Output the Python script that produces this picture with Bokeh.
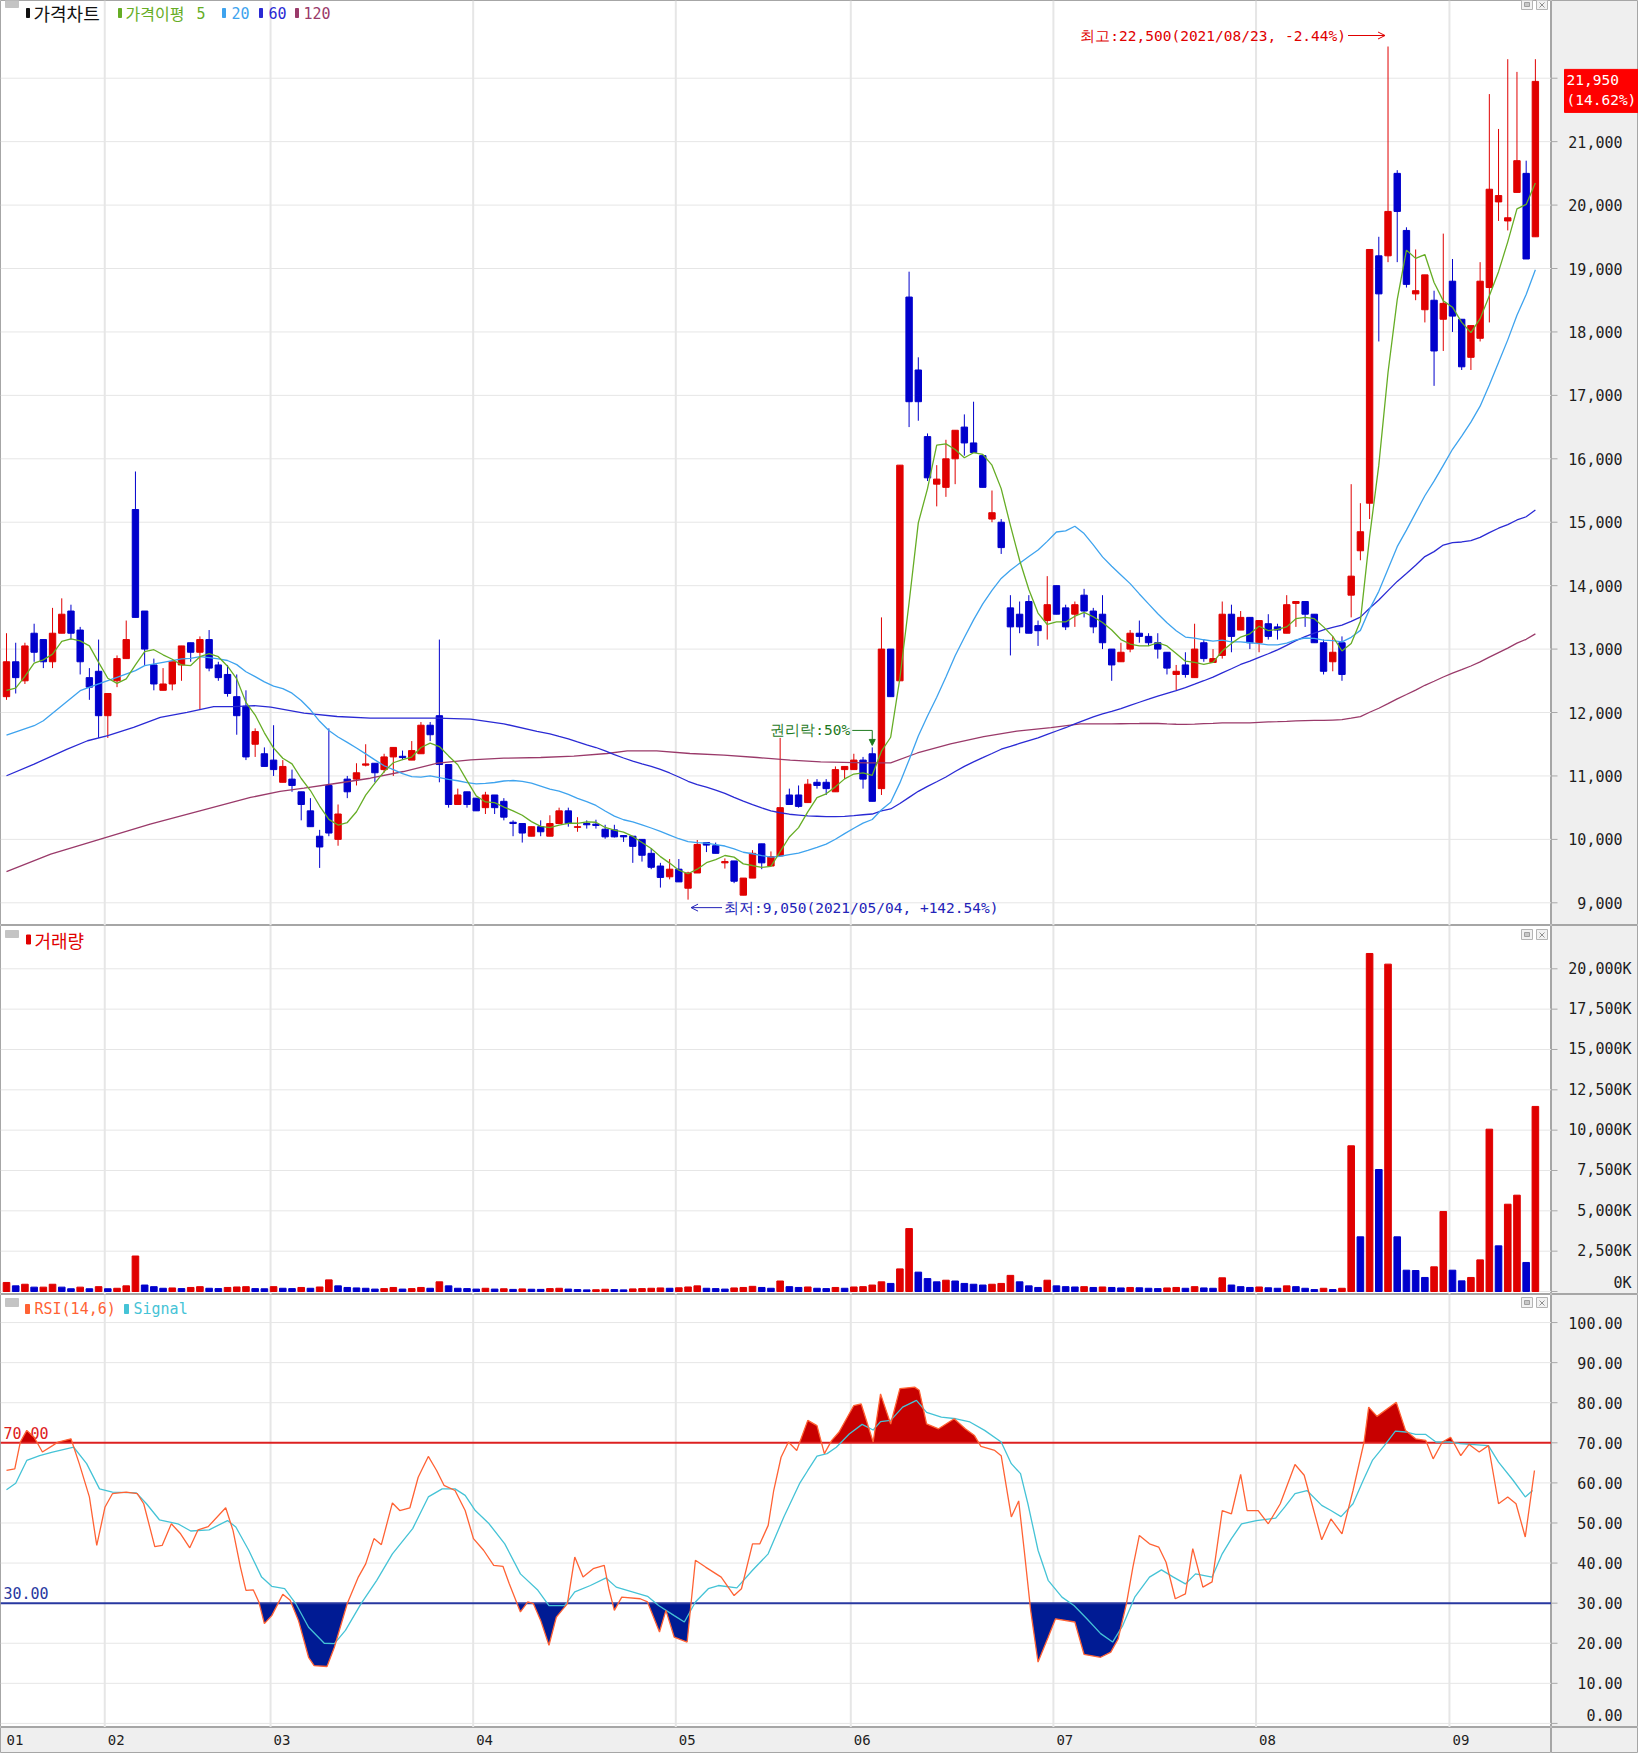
import numpy as np
import pandas as pd
from bokeh.plotting import figure
from bokeh.layouts import column, row
from bokeh.models import Range1d, Arrow, OpenHead, NormalHead
from bokeh.core.properties import value
from bokeh.embed import file_html
from bokeh.resources import INLINE

# ---------------------------------------------------------------- data
start_day, end_day = "2021-01-15", "2021-09-14"
market_holidays = ["2021-02-11", "2021-02-12", "2021-03-01",
                   "2021-05-05", "2021-05-19", "2021-08-16"]

opens = [
    12250, 12800, 12500, 13250, 13150, 12800, 13250, 13600, 13300, 12550,
    12650, 11950, 12500, 12850, 15200, 13600, 12750, 12350, 12450, 12750,
    13100, 12950, 13150, 12750, 12600, 12250, 12100, 11500, 11350, 11250,
    10900, 10950, 10750, 10450, 10050, 10850, 10000, 10950, 10950, 11170,
    11200, 11100, 11300, 11310, 11250, 11350, 11800, 11950, 11180, 10550,
    10750, 10650, 10500, 10700, 10600, 10270, 10250, 10050, 10200, 10050,
    10250, 10450, 10190, 10250, 10240, 10160, 10150, 10060, 10050, 10000,
    9780, 9580, 9410, 9530, 9230, 9470, 9950, 9900, 9630, 9660,
    9120, 9390, 9930, 9580, 9740, 10700, 10700, 10580, 10900, 10900,
    10750, 11100, 11100, 11250, 11350, 10800, 13000, 12500, 18550, 17400,
    16350, 15600, 15550, 16000, 16500, 16250, 16050, 15050, 15000, 13650,
    13550, 13750, 13370, 13450, 14000, 13650, 13550, 13850, 13600, 13550,
    13000, 12800, 13000, 13250, 13200, 13100, 12950, 12600, 12750, 12550,
    13100, 12790, 12900, 13550, 13300, 13500, 13100, 13400, 13350, 13250,
    13720, 13750, 13550, 13100, 12800, 13100, 13850, 14550, 15300, 19200,
    19200, 20500, 19600, 18600, 18350, 18500, 18200, 18800, 18200, 17600,
    17900, 18700, 20050, 19750, 20200, 20500, 19500,
]
highs = [
    13250, 13100, 13100, 13400, 13150, 13650, 13800, 13700, 13350, 12700,
    13150, 12300, 12900, 13450, 15800, 13600, 12850, 12700, 12800, 13050,
    13100, 13200, 13300, 12800, 12750, 12600, 12350, 11750, 11450, 11800,
    11250, 11100, 10750, 10650, 10150, 11750, 10550, 11000, 11200, 11500,
    11200, 11350, 11450, 11400, 11550, 11850, 11850, 13150, 11180, 10800,
    10750, 10650, 10750, 10700, 10650, 10300, 10250, 10200, 10300, 10380,
    10500, 10500, 10350, 10300, 10310, 10230, 10230, 10060, 10050, 10000,
    9860, 9630, 9690, 9690, 9490, 9990, 9950, 9950, 9700, 9660,
    9390, 9830, 9930, 9810, 11600, 10800, 10850, 10950, 10950, 10950,
    11150, 11150, 11350, 11300, 11450, 13500, 13000, 15900, 18950, 17600,
    16400, 15900, 16300, 16450, 16700, 16900, 16050, 15500, 15050, 13850,
    13750, 13850, 13450, 14150, 14000, 13700, 13750, 13950, 13650, 13850,
    13000, 13100, 13300, 13450, 13250, 13250, 12950, 12750, 12950, 13400,
    13150, 13000, 13750, 13700, 13600, 13500, 13450, 13550, 13400, 13850,
    13750, 13750, 13550, 13150, 13200, 13200, 15600, 15300, 19300, 19500,
    22500, 20550, 19650, 19300, 18900, 18650, 19550, 19150, 18200, 18100,
    19100, 21750, 21200, 22300, 22100, 20700, 22300,
]
lows = [
    12200, 12300, 12450, 12800, 12700, 12700, 13250, 13150, 12600, 12200,
    11600, 11600, 12400, 12850, 13500, 12750, 12350, 12350, 12350, 12500,
    12800, 12050, 12650, 12500, 12250, 11650, 11250, 11300, 11150, 11000,
    10900, 10750, 10300, 10200, 9550, 10050, 9900, 10650, 10850, 11150,
    10900, 11050, 11000, 11250, 11250, 11350, 11550, 10900, 10500, 10550,
    10500, 10450, 10400, 10400, 10300, 10050, 9950, 10050, 10050, 10050,
    10250, 10200, 10120, 10170, 10170, 10010, 10030, 9960, 9630, 9650,
    9530, 9240, 9370, 9330, 9050, 9470, 9800, 9780, 9540, 9310,
    9120, 9390, 9530, 9580, 9740, 10550, 10500, 10580, 10800, 10700,
    10750, 10950, 11100, 10800, 10600, 10700, 12250, 12500, 16500, 16600,
    15650, 15250, 15400, 15600, 16050, 16100, 15550, 15000, 14500, 12900,
    13250, 13250, 13050, 13150, 13550, 13300, 13350, 13500, 13250, 13000,
    12500, 12800, 12950, 13100, 13050, 12850, 12600, 12350, 12550, 12550,
    12800, 12790, 12850, 12950, 13300, 13000, 12950, 13150, 13150, 13250,
    13350, 13350, 13100, 12600, 12650, 12500, 13500, 14400, 15050, 17850,
    19100, 19100, 18700, 18500, 18150, 17150, 17700, 18000, 17400, 17400,
    17850, 18150, 19750, 19600, 20200, 19150, 19500,
]
closes = [
    12800, 12550, 13050, 12950, 12800, 13250, 13550, 13250, 12800, 12400,
    11950, 12300, 12850, 13150, 13500, 13000, 12450, 12450, 12800, 13050,
    12950, 13150, 12700, 12550, 12300, 11950, 11300, 11700, 11150, 11100,
    11150, 10850, 10550, 10200, 9880, 10100, 10400, 10750, 11050, 11190,
    11050, 11300, 11450, 11290, 11400, 11800, 11650, 11180, 10550, 10700,
    10550, 10450, 10700, 10500, 10350, 10250, 10100, 10200, 10120, 10250,
    10450, 10250, 10200, 10230, 10220, 10040, 10040, 10040, 9890, 9750,
    9560, 9400, 9530, 9330, 9470, 9920, 9910, 9780, 9650, 9340,
    9390, 9780, 9630, 9730, 10500, 10550, 10520, 10870, 10850, 10800,
    11100, 11150, 11250, 10950, 10600, 13000, 12250, 15900, 16900, 16900,
    15700, 15680, 16000, 16450, 16250, 16100, 15550, 15150, 14600, 13350,
    13350, 13250, 13290, 13700, 13550, 13350, 13700, 13600, 13350, 13100,
    12750, 12950, 13250, 13200, 13100, 13000, 12700, 12650, 12600, 13000,
    12850, 12850, 13550, 13200, 13500, 13100, 13450, 13200, 13300, 13700,
    13750, 13550, 13100, 12650, 12950, 12600, 14150, 14850, 19300, 18600,
    19900, 19900, 18750, 18650, 18900, 17700, 18450, 18250, 17450, 18100,
    18800, 20250, 20150, 19800, 20700, 19150, 21950,
]
# traded volume, thousands of shares
volume_k = [
    560, 350, 450, 270, 270, 450, 270, 170, 270, 170,
    300, 170, 200, 350, 2200, 400, 300, 200, 220, 180,
    250, 300, 200, 180, 250, 280, 300, 180, 170, 300,
    200, 180, 250, 200, 280, 720, 350, 250, 220, 200,
    150, 180, 250, 150, 180, 250, 200, 600, 350, 200,
    180, 150, 200, 150, 170, 130, 160, 140, 130, 180,
    200, 150, 120, 100, 110, 140, 120, 100, 160, 180,
    200, 220, 200, 230, 280, 350, 200, 180, 150, 220,
    250, 320, 250, 200, 650, 300, 250, 280, 200, 180,
    250, 200, 280, 300, 400, 600, 500, 1400, 3900, 1200,
    800, 600, 700, 650, 500, 450, 400, 450, 500, 1000,
    600, 350, 250, 700, 350, 300, 280, 300, 250, 280,
    250, 220, 250, 230, 200, 180, 220, 250, 200, 300,
    220, 200, 850, 400, 300, 250, 280, 230, 200, 350,
    300, 200, 120, 200, 120, 200, 9030, 3390, 20950, 7560,
    20290, 3390, 1320, 1300, 870, 1530, 4960, 1320, 660, 870,
    1960, 10060, 2830, 5410, 5970, 1800, 11470,
]

# moving-average values before each window is complete (day position, value)
ma5_head_day = [0, 1, 2, 3]
ma5_head = [12350, 12385, 12570, 12780]
ma20_head_day = [0, 3, 4, 6, 8, 10, 12, 14, 15, 17]
ma20_head = [11645, 11792, 11871, 12108, 12344, 12450, 12555, 12660, 12739, 12792]
ma60_head_day = [0, 3, 6.6, 8.8, 11, 13.8, 16.7, 19.6, 22.5, 24.7, 26.9, 28.7,
                 32.3, 35.9, 39.5, 43.1, 46.8, 50.4, 54, 57.6]
ma60_head = [11003, 11187, 11424, 11555, 11634, 11766, 11924, 12002, 12092, 12092,
             12108, 12085, 11990, 11937, 11911, 11911, 11911, 11895, 11822, 11701]
ma120_head_day = [0, 4.8, 10.2, 15.6, 21, 26.5, 29.7, 32.3, 35.9, 39.5, 43.1, 46.8,
                  50.4, 54, 58, 61.6, 65.2, 67.4, 70.6, 74.2, 77.9, 81.5, 85.1, 88.4,
                  93.4, 96, 98.9, 102.5, 106.1, 109.7, 113.4, 116.6]
ma120_head = [9493, 9767, 10004, 10240, 10451, 10661, 10756, 10807, 10885, 10964,
              11070, 11201, 11254, 11280, 11291, 11312, 11354, 11396, 11396, 11354,
              11328, 11291, 11249, 11223, 11207, 11207, 11362, 11505, 11620, 11706,
              11763, 11820]

# RSI(14) and its 6-day signal (day position, value)
rsi_day = [0, 0.9, 1.5, 2.2, 3.0, 3.9, 5.0, 5.6, 7.0, 7.9, 9.0, 9.8, 10.7, 11.5, 13.0,
           14.2, 14.9, 16.1, 16.9, 17.9, 18.9, 19.9, 20.8, 21.9, 23.8, 24.6, 25.4, 26.0,
           26.8, 27.4, 28.0, 28.8, 30.0, 30.8, 31.7, 32.8, 33.4, 34.8, 35.6, 37.0, 38.2,
           39.0, 39.9, 40.7, 41.9, 42.7, 43.8, 44.7, 45.8, 46.7, 47.5, 48.7, 49.8, 50.7,
           51.8, 52.9, 53.9, 54.6, 55.8, 56.6, 57.2, 58.0, 58.9, 59.7, 60.9, 61.7, 62.6,
           63.7, 64.9, 65.4, 66.0, 66.8, 68.8, 69.6, 70.9, 71.6, 72.5, 73.9, 74.8, 75.9,
           77.6, 79.0, 79.8, 81.0, 81.8, 82.7, 83.3, 84.1, 84.9, 85.8, 87.0, 88.0, 88.8,
           89.6, 90.4, 92.0, 92.8, 94.1, 94.9, 96.0, 97.0, 98.6, 99.1, 99.9, 101.2, 102.9,
           104.1, 105.1, 105.8, 107.3, 108.0, 109.1, 109.9, 110.5, 111.2, 112.0, 113.1,
           113.9, 116.0, 117.0, 118.8, 119.9, 120.7, 121.6, 122.3, 123.0, 124.1, 125.1,
           125.9, 126.9, 128.0, 128.8, 129.9, 130.9, 132.0, 133.0, 134.0, 134.7, 135.9,
           137.0, 138.3, 139.9, 140.9, 142.8, 143.8, 145.0, 146.2, 147.4, 147.9, 148.8,
           150.9, 151.9, 153.0, 154.1, 154.9, 155.9, 156.8, 157.9, 158.8, 159.9, 160.9,
           162.0, 163.0, 163.9, 164.9, 165.9]
rsi = [63.1, 63.5, 70.2, 73.1, 71.4, 67.7, 69.3, 70.2, 71.0, 64.8, 56.5, 44.4, 54.0, 57.3,
       57.7, 57.3, 54.8, 44.1, 44.4, 49.8, 47.3, 43.8, 48.3, 49.1, 53.8, 48.1, 39.0, 33.2,
       33.3, 30.3, 24.9, 26.9, 32.2, 30.7, 25.7, 16.5, 14.4, 14.2, 19.0, 29.9, 36.5, 39.8,
       46.1, 44.6, 55.0, 53.1, 53.8, 61.4, 66.6, 63.1, 59.4, 58.1, 53.1, 46.1, 43.2, 39.4,
       39.2, 34.8, 27.8, 30.3, 29.9, 25.7, 19.5, 26.5, 29.9, 41.5, 36.5, 38.6, 39.4, 33.6,
       28.2, 31.5, 31.1, 30.3, 22.8, 28.2, 21.5, 20.3, 40.7, 39.0, 36.5, 31.9, 33.6, 44.8,
       44.8, 49.4, 58.1, 66.4, 70.2, 68.1, 75.6, 74.3, 67.3, 70.6, 72.7, 79.3, 79.7, 70.2,
       82.2, 74.7, 83.5, 83.9, 83.1, 74.7, 73.5, 76.0, 73.5, 71.8, 69.1, 68.1, 66.8, 51.5,
       55.5, 43.2, 28.2, 15.3, 21.5, 26.1, 25.3, 17.2, 16.5, 17.8, 21.1, 29.9, 39.0, 46.9,
       44.8, 44.0, 40.2, 31.1, 32.3, 43.6, 34.0, 35.3, 53.1, 52.3, 62.1, 53.1, 53.1, 49.8,
       54.8, 64.6, 61.9, 45.8, 51.0, 47.3, 58.1, 70.2, 78.9, 76.6, 80.1, 73.1, 71.0, 70.6,
       66.0, 70.2, 71.4, 66.8, 69.6, 67.7, 69.3, 54.8, 56.5, 54.8, 46.5, 63.1]
signal_day = [0, 1.0, 2.2, 3.6, 5.0, 7.3, 8.7, 10.1, 11.5, 14.1, 15.2, 16.6, 18.6, 20.0,
              22.0, 24.0, 24.9, 26.3, 27.7, 28.8, 30.2, 31.4, 32.8, 34.5, 35.6, 36.8, 38.5,
              40.2, 41.9, 44.1, 45.8, 47.3, 48.7, 49.8, 50.9, 52.4, 54.1, 55.8, 57.7, 58.9,
              60.6, 61.7, 63.4, 65.1, 66.2, 69.6, 70.8, 72.5, 73.6, 74.8, 76.2, 77.3, 79.3,
              81.0, 82.7, 84.4, 86.1, 87.0, 88.0, 89.1, 90.1, 91.5, 92.9, 94.1, 94.9, 96.0,
              97.3, 98.8, 99.9, 101.5, 103.1, 104.6, 106.2, 108.0, 109.1, 110.1, 110.9,
              112.0, 113.1, 114.6, 115.9, 117.3, 118.8, 120.1, 121.2, 122.5, 124.1, 125.4,
              126.7, 128.0, 129.1, 130.9, 132.0, 133.0, 134.1, 135.7, 137.8, 138.8, 139.9,
              141.2, 142.8, 143.8, 144.9, 146.2, 147.3, 148.3, 149.6, 150.8, 151.9, 153.0,
              154.1, 155.2, 156.7, 157.8, 160.9, 162.0, 163.6, 164.9, 165.7]
signal = [58.3, 59.9, 65.6, 66.8, 67.7, 68.9, 64.8, 58.5, 57.7, 57.5, 54.8, 50.8, 49.8,
          48.0, 48.3, 50.6, 49.0, 43.2, 36.5, 34.2, 33.6, 29.9, 24.0, 20.0, 19.9, 23.2,
          29.9, 35.7, 42.3, 48.6, 56.5, 58.5, 58.5, 56.9, 53.1, 49.8, 44.8, 37.3, 33.2,
          29.4, 29.4, 32.8, 34.4, 36.3, 34.0, 31.7, 29.4, 26.9, 25.3, 30.3, 33.6, 34.4,
          33.8, 38.2, 42.3, 51.5, 59.8, 63.1, 66.7, 67.3, 68.9, 72.2, 74.6, 73.2, 75.3,
          75.6, 78.9, 80.6, 77.6, 76.4, 76.0, 75.2, 73.1, 70.2, 64.8, 62.3, 54.8, 43.2,
          35.7, 31.5, 29.4, 26.1, 22.4, 20.3, 24.4, 31.5, 36.5, 38.3, 36.5, 34.8, 37.3,
          36.5, 42.3, 46.1, 49.8, 50.6, 51.2, 54.0, 57.3, 58.1, 54.4, 53.1, 51.6, 54.8,
          60.6, 65.6, 69.3, 72.9, 72.7, 72.1, 72.1, 70.2, 70.2, 69.8, 69.3, 65.2, 60.6,
          56.5, 58.1]

price_ticks = [9000, 10000, 11000, 12000, 13000, 14000, 15000, 16000,
               17000, 18000, 19000, 20000, 21000, 22000]
volume_ticks_k = [0, 2500, 5000, 7500, 10000, 12500, 15000, 17500, 20000]
rsi_ticks = [0, 10, 20, 30, 40, 50, 60, 70, 80, 90, 100]
rsi_upper, rsi_lower = 70, 30
rights_day, rights_text = "2021-06-03", "권리락:50%"

# ---------------------------------------------------------------- derived series
dates = pd.bdate_range(start_day, end_day)
dates = dates[~dates.isin(pd.to_datetime(market_holidays))]
N = len(closes)
assert len(dates) == N == len(opens) == len(highs) == len(lows) == len(volume_k)
assert len(rsi_day) == len(rsi) and len(signal_day) == len(signal)
x = np.arange(N)
o, h, l, c = (np.array(a, dtype=float) for a in (opens, highs, lows, closes))
vol = np.array(volume_k, dtype=float)


def moving_average(n, head_day, head_val):
    rolled = pd.Series(c).rolling(n).mean().to_numpy()
    return list(head_day) + list(range(n - 1, N)), list(head_val) + list(rolled[n - 1:])


month_first = [i for i in range(N) if i == 0 or dates[i].month != dates[i - 1].month]

# ---------------------------------------------------------------- layout & style
W_MAIN, W_AXIS = 1551, 87
H_PRICE, H_VOL, H_RSI, H_MONTH = 925, 369, 433, 26
X0, X1 = -0.651, 167.75
DAY_PX = W_MAIN / (X1 - X0)
PRICE_RANGE = (8642.3, 23225.3)
VOL_RANGE = (-186.0, 22684.0)
RSI_RANGE = (-1.02, 107.0)

MONO = "DejaVu Sans Mono"
KR = "Noto Sans CJK KR"
UP, DOWN = "#e00000", "#0000cc"
GRID = "#e6e6e6"
AXIS_BG = "#efefef"
FRAME = "#a6a6a6"
C_MA5, C_MA20, C_MA60, C_MA120 = "#66ad25", "#3ea3ee", "#2a2ad4", "#9a3a6a"
C_RSI, C_SIG = "#ff6234", "#45c3d6"
C_HI_FILL, C_LO_FILL = "#c80000", "#001b94"
C_HI_LINE, C_LO_LINE = "#dd2020", "#2838a0"
GREEN_NOTE = "#1f7a1f"
GRIDLINE_SHIFT = 0.33  # month separators sit slightly before the first candle


def px_x(px):
    return X0 + px / DAY_PX


def px_y(py, hgt, rng):
    return rng[1] - py / hgt * (rng[1] - rng[0])


def d_y(pix, hgt, rng):
    return pix / hgt * (rng[1] - rng[0])


def panel(w, hgt, xr, yr, bg="white"):
    p = figure(width=w, height=hgt, x_range=xr, y_range=yr, toolbar_location=None,
               output_backend="svg", x_axis_location=None, y_axis_location=None,
               min_border=0, background_fill_color=bg, border_fill_color=bg,
               outline_line_color=FRAME, outline_line_width=1)
    p.grid.visible = False
    return p


def hgrid(p, vals, color=GRID, width=1):
    p.segment(x0=[X0] * len(vals), x1=[X1] * len(vals), y0=vals, y1=vals,
              line_color=color, line_width=width)


def vgrid(p, rng):
    xs = [i - GRIDLINE_SHIFT for i in month_first[1:]]
    p.segment(x0=xs, x1=xs, y0=[rng[0]] * len(xs), y1=[rng[1]] * len(xs),
              line_color=GRID, line_width=2)


def put_text(p, xs, ys, texts, color, font, size, align="left", baseline="middle"):
    p.text(x=xs, y=ys, text=texts, text_color=color, text_font=value(font),
           text_font_size=size, text_align=align, text_baseline=baseline)


def box_px(p, hgt, rng, x0, x1, y0, y1, fill, line=None):
    p.quad(left=[px_x(x0)], right=[px_x(x1)], top=[px_y(y0, hgt, rng)],
           bottom=[px_y(y1, hgt, rng)], fill_color=fill, line_color=line or fill,
           line_width=1)


def panel_chrome(p, hgt, rng, tab_y):
    """grey tab at top-left and the two small window buttons at top-right"""
    box_px(p, hgt, rng, 5, 18, tab_y[0], tab_y[1], "#c4c4c4")
    for bx in (1521, 1536):
        box_px(p, hgt, rng, bx, bx + 11, tab_y[0] - 1, tab_y[0] + 9, "#f2f2f2", "#b4b4b4")
    box_px(p, hgt, rng, 1524, 1529, tab_y[0] + 2, tab_y[0] + 6, "#c8c8c8", "#a0a0a0")
    p.segment(x0=[px_x(1539), px_x(1539)], x1=[px_x(1544), px_x(1544)],
              y0=[px_y(tab_y[0] + 2, hgt, rng), px_y(tab_y[0] + 7, hgt, rng)],
              y1=[px_y(tab_y[0] + 7, hgt, rng), px_y(tab_y[0] + 2, hgt, rng)],
              line_color="#909090", line_width=1)


def header(p, hgt, rng, items, cy):
    """items: (kind, x_px, text_or_width, color, font, size)"""
    for kind, px, t, col, font, size in items:
        if kind == "mark":
            box_px(p, hgt, rng, px, px + t, cy - 4.5, cy + 4.5, col)
        else:
            put_text(p, [px_x(px)], [px_y(cy, hgt, rng)], [t], col, font, size)


def axis_panel(hgt, yr, rng, ticks, labels, label_x, bg=AXIS_BG):
    a = figure(width=W_AXIS, height=hgt, x_range=Range1d(0, W_AXIS), y_range=yr,
               toolbar_location=None, output_backend="svg", x_axis_location=None,
               y_axis_location=None, min_border=0, background_fill_color=bg,
               border_fill_color=bg, outline_line_color=FRAME, outline_line_width=1)
    a.grid.visible = False
    a.segment(x0=[0] * len(ticks), x1=[6] * len(ticks), y0=ticks, y1=ticks,
              line_color="#a8a8a8", line_width=1)
    # keep the lowest label inside the panel
    offs = [-8 if (t - rng[0]) / (rng[1] - rng[0]) * hgt < 10 else 0 for t in ticks]
    a.text(x=[label_x] * len(ticks), y=ticks, text=labels, y_offset=offs,
           text_color="#1e1e1e", text_font=value(MONO), text_font_size="15px",
           text_align="right", text_baseline="middle")
    return a


xr = Range1d(X0, X1)

# ---------------------------------------------------------------- price panel
yr_p = Range1d(*PRICE_RANGE)
pp = panel(W_MAIN, H_PRICE, xr, yr_p)
hgrid(pp, price_ticks)
vgrid(pp, PRICE_RANGE)
panel_chrome(pp, H_PRICE, PRICE_RANGE, (0, 7))
header(pp, H_PRICE, PRICE_RANGE, [
    ("mark", 26, 3, "#111111", None, None),
    ("text", 33, "가격차트", "#111111", KR, "18px"),
    ("mark", 118, 3, C_MA5, None, None),
    ("text", 125, "가격이평", C_MA5, KR, "16px"),
    ("text", 196, "5", C_MA5, MONO, "15px"),
    ("mark", 222, 3, C_MA20, None, None),
    ("text", 231, "20", C_MA20, MONO, "15px"),
    ("mark", 259, 3, C_MA60, None, None),
    ("text", 268, "60", C_MA60, MONO, "15px"),
    ("mark", 295, 3, C_MA120, None, None),
    ("text", 303, "120", C_MA120, MONO, "15px"),
], 12.5)

candle_col = [UP if c[i] >= o[i] else DOWN for i in range(N)]
pp.segment(x0=x, x1=x, y0=l, y1=h, line_color=candle_col, line_width=1)
pp.vbar(x=x, width=6.4 / DAY_PX, bottom=np.minimum(o, c), top=np.maximum(o, c),
        fill_color=candle_col, line_color=candle_col, line_width=1)

for n, hd, hv, col in ((120, ma120_head_day, ma120_head, C_MA120),
                       (60, ma60_head_day, ma60_head, C_MA60),
                       (20, ma20_head_day, ma20_head, C_MA20),
                       (5, ma5_head_day, ma5_head, C_MA5)):
    mx, my = moving_average(n, hd, hv)
    pp.line(mx, my, line_color=col, line_width=1.3)

# highest / lowest marks relative to the last close
last = c[-1]
i_hi, i_lo = int(np.argmax(h)), int(np.argmin(l))
hi_txt = f"최고:{int(h[i_hi]):,}({dates[i_hi]:%Y/%m/%d}, {(last / h[i_hi] - 1) * 100:+.2f}%)"
lo_txt = f"최저:{int(l[i_lo]):,}({dates[i_lo]:%Y/%m/%d}, {(last / l[i_lo] - 1) * 100:+.2f}%)"
y_hi = h[i_hi] + d_y(11, H_PRICE, PRICE_RANGE)
put_text(pp, [i_hi - 42 / DAY_PX], [y_hi], [hi_txt], UP, MONO, "14.5px", align="right")
pp.add_layout(Arrow(end=OpenHead(size=7, line_color=UP, line_width=1),
                    x_start=i_hi - 40 / DAY_PX, y_start=y_hi, x_end=i_hi - 3 / DAY_PX, y_end=y_hi,
                    line_color=UP, line_width=1))
y_lo = l[i_lo] - d_y(8, H_PRICE, PRICE_RANGE)
put_text(pp, [i_lo + 36 / DAY_PX], [y_lo], [lo_txt], "#2323b8", MONO, "14.5px")
pp.add_layout(Arrow(end=OpenHead(size=7, line_color="#2323b8", line_width=1),
                    x_start=i_lo + 34 / DAY_PX, y_start=y_lo, x_end=i_lo + 3 / DAY_PX, y_end=y_lo,
                    line_color="#2323b8", line_width=1))

# ex-rights note
i_r = int(np.where(dates == pd.Timestamp(rights_day))[0][0])
y_r = h[i_r] + d_y(17, H_PRICE, PRICE_RANGE)
put_text(pp, [i_r - 22 / DAY_PX], [y_r], [rights_text], GREEN_NOTE, MONO, "14.5px", align="right")
pp.segment(x0=[i_r - 20 / DAY_PX], x1=[i_r], y0=[y_r], y1=[y_r], line_color=GREEN_NOTE, line_width=1)
pp.add_layout(Arrow(end=NormalHead(size=6, fill_color=GREEN_NOTE, line_color=GREEN_NOTE),
                    x_start=i_r, y_start=y_r, x_end=i_r, y_end=h[i_r] + d_y(2, H_PRICE, PRICE_RANGE),
                    line_color=GREEN_NOTE, line_width=1))

ap = axis_panel(H_PRICE, yr_p, PRICE_RANGE, price_ticks, [f"{t:,}" for t in price_ticks], 71)
# last-price tag
ly = last
ap.quad(left=[13], right=[W_AXIS], top=[ly + d_y(12, H_PRICE, PRICE_RANGE)],
        bottom=[ly - d_y(31, H_PRICE, PRICE_RANGE)], fill_color="#ff0000", line_color="#ff0000")
chg = (c[-1] / c[-2] - 1) * 100
ap.text(x=[15, 15], y=[ly + d_y(1.5, H_PRICE, PRICE_RANGE), ly - d_y(19, H_PRICE, PRICE_RANGE)],
        text=[f"{int(last):,}", f"({chg:.2f}%)"], text_color="white", text_font=value(MONO),
        text_font_size="14.5px", text_align="left", text_baseline="middle")

# ---------------------------------------------------------------- volume panel
yr_v = Range1d(*VOL_RANGE)
pv = panel(W_MAIN, H_VOL, xr, yr_v)
hgrid(pv, volume_ticks_k)
vgrid(pv, VOL_RANGE)
panel_chrome(pv, H_VOL, VOL_RANGE, (5, 12))
header(pv, H_VOL, VOL_RANGE, [
    ("mark", 26, 4, UP, None, None),
    ("text", 34, "거래량", UP, KR, "18px"),
], 14)
vol_col = [UP if i == 0 or vol[i] >= vol[i - 1] else DOWN for i in range(N)]
pv.vbar(x=x, width=6.6 / DAY_PX, bottom=0, top=vol, fill_color=vol_col, line_color=vol_col,
        line_width=1)
av = axis_panel(H_VOL, yr_v, VOL_RANGE, volume_ticks_k, [f"{t:,}K" for t in volume_ticks_k], 80)

# ---------------------------------------------------------------- RSI panel
yr_r = Range1d(*RSI_RANGE)
pr = panel(W_MAIN, H_RSI, xr, yr_r)
hgrid(pr, [t for t in rsi_ticks if t not in (rsi_upper, rsi_lower)])
vgrid(pr, RSI_RANGE)
panel_chrome(pr, H_RSI, RSI_RANGE, (4, 12))
header(pr, H_RSI, RSI_RANGE, [
    ("mark", 25, 4, C_RSI, None, None),
    ("text", 34, "RSI(14,6)", C_RSI, MONO, "15px"),
    ("mark", 124, 4, C_SIG, None, None),
    ("text", 133, "Signal", C_SIG, MONO, "15px"),
], 14.5)
put_text(pr, [px_x(3)], [rsi_upper + d_y(10, H_RSI, RSI_RANGE)], [f"{rsi_upper:.2f}"],
         C_HI_LINE, MONO, "15px")
put_text(pr, [px_x(3)], [rsi_lower + d_y(10, H_RSI, RSI_RANGE)], [f"{rsi_lower:.2f}"],
         C_LO_LINE, MONO, "15px")


def beyond(xs, ys, level, above):
    """polyline with the crossings of `level` inserted, clipped to one side"""
    px, py = [], []
    for k in range(len(xs)):
        if k > 0:
            y0, y1 = ys[k - 1], ys[k]
            if (y0 - level) * (y1 - level) < 0:
                t = (level - y0) / (y1 - y0)
                px.append(xs[k - 1] + t * (xs[k] - xs[k - 1]))
                py.append(level)
        px.append(xs[k])
        py.append(ys[k])
    py = np.array(py)
    return np.array(px), (np.maximum(py, level) if above else np.minimum(py, level))


fx, fy = beyond(rsi_day, rsi, rsi_upper, True)
pr.varea(x=fx, y1=np.full(len(fx), rsi_upper), y2=fy, fill_color=C_HI_FILL)
fx, fy = beyond(rsi_day, rsi, rsi_lower, False)
pr.varea(x=fx, y1=fy, y2=np.full(len(fx), rsi_lower), fill_color=C_LO_FILL)
hgrid(pr, [rsi_upper], C_HI_LINE, 2)
hgrid(pr, [rsi_lower], C_LO_LINE, 2)
pr.line(signal_day, signal, line_color=C_SIG, line_width=1.3)
pr.line(rsi_day, rsi, line_color=C_RSI, line_width=1.3)
ar = axis_panel(H_RSI, yr_r, RSI_RANGE, rsi_ticks, [f"{t:.2f}" for t in rsi_ticks], 71)

# ---------------------------------------------------------------- month strip
pm = figure(width=W_MAIN, height=H_MONTH, x_range=xr, y_range=Range1d(H_MONTH, 0),
            toolbar_location=None, output_backend="svg", x_axis_location=None,
            y_axis_location=None, min_border=0, background_fill_color=AXIS_BG,
            border_fill_color=AXIS_BG, outline_line_color=FRAME, outline_line_width=1)
pm.grid.visible = False
mx = [max(i - GRIDLINE_SHIFT, px_x(1)) + 3 / DAY_PX for i in month_first]
put_text(pm, mx, [12] * len(mx), [f"{dates[i].month:02d}" for i in month_first],
         "#1e1e1e", MONO, "14px")
corner = figure(width=W_AXIS, height=H_MONTH, x_range=Range1d(0, W_AXIS),
                y_range=Range1d(H_MONTH, 0), toolbar_location=None, output_backend="svg",
                x_axis_location=None, y_axis_location=None, min_border=0,
                background_fill_color=AXIS_BG, border_fill_color=AXIS_BG,
                outline_line_color=FRAME, outline_line_width=1)
corner.grid.visible = False
corner.segment(x0=[0], x1=[0], y0=[0], y1=[H_MONTH], line_color=FRAME, line_width=1)

layout = column(row(pp, ap), row(pv, av), row(pr, ar), row(pm, corner))

with open("out.html", "w") as f:
    f.write(file_html(layout, INLINE))
